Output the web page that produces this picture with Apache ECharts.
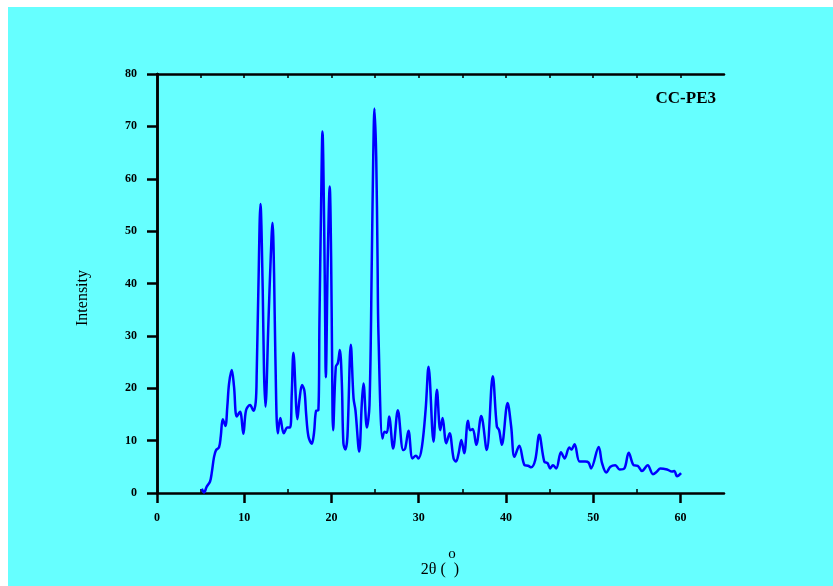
<!DOCTYPE html>
<html>
<head>
<meta charset="utf-8">
<style>
html,body{margin:0;padding:0;background:#fff;}
#c{width:833px;height:586px;}
</style>
<script src="https://cdn.jsdelivr.net/npm/echarts@6/dist/echarts.min.js"></script>
</head>
<body>
<div id="c"></div>
<script>
const twoTheta = [5.13,5.39,5.7,6.08,6.27,6.54,6.77,7.11,7.31,7.54,7.84,8.06,8.26,8.57,8.83,9.14,9.52,9.9,10.21,10.67,11.05,11.32,11.43,11.62,11.86,12.12,12.27,12.43,12.77,13.04,13.24,13.42,13.57,13.85,14.14,14.53,14.95,15.26,15.45,15.64,16.1,16.33,16.63,16.9,17.1,17.36,17.74,18.0,18.24,18.5,18.62,18.81,18.97,19.16,19.28,19.35,19.58,19.8,19.96,20.07,20.19,20.5,20.73,20.96,21.19,21.37,21.6,21.83,22.22,22.53,22.75,23.18,23.48,23.67,24.06,24.36,24.63,24.79,24.93,25.13,25.28,25.39,25.85,26.08,26.35,26.61,27.07,27.61,28.22,28.45,28.83,29.29,29.68,29.98,30.37,30.8,31.13,31.7,32.09,32.47,32.74,33.16,33.54,34.0,34.28,34.58,34.89,35.22,35.65,35.9,36.2,36.6,37.17,37.8,38.49,38.96,39.22,39.53,40.19,40.6,40.98,41.53,42.14,42.53,42.9,43.36,43.82,44.4,44.77,45.08,45.39,45.77,46.31,46.73,47.26,47.49,47.87,48.45,49.1,49.48,49.76,50.63,51.02,51.51,51.97,52.54,53.04,53.58,54.08,54.65,55.11,55.6,56.25,56.86,57.32,57.7,58.47,59.04,59.3,59.62,60.08];
const intensity = [0.8,0.1,1.2,2.2,3.8,6.9,8.2,8.7,10.8,14.1,12.8,16.5,20.9,23.5,20.3,14.6,15.5,11.3,15.8,16.8,15.7,17.4,22.9,38.8,55.2,38.8,22.9,16.5,32.4,45.1,51.6,42.0,26.0,11.4,14.3,11.4,12.5,12.5,19.0,26.8,14.1,17.8,20.6,19.5,15.0,10.8,9.4,11.5,15.7,15.8,32.4,54.7,69.0,51.5,32.5,22.1,45.1,58.5,45.1,26.0,12.0,24.1,24.8,27.3,21.0,9.5,8.3,10.8,28.3,18.1,15.8,7.9,17.1,20.9,12.5,16.8,45.1,64.2,73.4,64.2,45.1,30.2,10.4,11.7,11.5,14.6,8.5,15.8,8.2,8.5,11.9,6.6,7.1,6.6,8.8,16.0,24.1,9.8,19.7,12.0,14.3,9.5,11.4,6.6,6.0,7.6,10.1,7.6,13.8,12.0,12.2,9.2,14.7,8.2,22.3,12.7,12.0,9.2,17.2,12.7,6.9,9.0,5.3,5.2,4.9,6.3,11.1,6.0,5.7,4.7,5.3,4.7,7.8,6.6,8.7,8.3,9.3,6.0,6.0,5.8,4.7,8.8,5.7,3.9,5.0,5.3,4.5,4.7,7.7,5.3,5.2,4.2,5.3,3.6,4.1,4.7,4.5,4.1,4.2,3.2,3.8];
const xMajorTicks = [0,10,20,30,40,50,60];
const xMinorTicks = [5,15,25,35,45,55];
const xTopTicks = [5,10,15,20,25,30,35,40,45,50,55,60];
const yTicks = [0,10,20,30,40,50,60,70,80];
const sampleName = 'CC-PE3';

const serif = '"Liberation Serif", "Times New Roman", serif';
const chart = echarts.init(document.getElementById('c'));
const labelStyle = {fontFamily: serif, fontWeight: 'bold', fontSize: 12, color: '#000'};
const line = {show: true, lineStyle: {color: '#000', width: 2.5}};
chart.setOption({
  backgroundColor: '#fff',
  animation: false,
  graphic: [
    {type: 'rect', z: -10, silent: true, shape: {x: 8, y: 7, width: 825, height: 579}, style: {fill: '#66ffff'}},
    {type: 'text', x: 83, y: 298, rotation: Math.PI/2, style: {text: 'Intensity', font: '16px ' + serif, fill: '#000', textAlign: 'center', textVerticalAlign: 'middle'}},
    {type: 'text', x: 440, y: 570, style: {text: '2θ (  )', font: '16px ' + serif, fill: '#000', textAlign: 'center', textVerticalAlign: 'middle'}},
    {type: 'text', x: 452, y: 554, style: {text: 'o', font: '15px ' + serif, fill: '#000', textAlign: 'center', textVerticalAlign: 'middle'}},
    {type: 'text', x: 716, y: 99, style: {text: sampleName, font: 'bold 17px ' + serif, fill: '#000', textAlign: 'right', textVerticalAlign: 'middle'}}
  ],
  grid: {left: 157, top: 74, width: 567, height: 419, show: false},
  xAxis: [
    {type: 'value', min: 0, max: 65, position: 'bottom', axisLine: line,
     splitLine: {show: false},
     axisTick: {show: true, customValues: xMajorTicks, length: 10, lineStyle: {color: '#000', width: 2.5}},
     axisLabel: {customValues: xMajorTicks, margin: 19, ...labelStyle}},
    {type: 'value', min: 0, max: 65, position: 'bottom', axisLine: {show: false},
     splitLine: {show: false},
     axisTick: {show: true, inside: true, customValues: xMinorTicks, length: 4, lineStyle: {color: '#000', width: 1.5}},
     axisLabel: {show: false}},
    {type: 'value', min: 0, max: 65, position: 'top', axisLine: line,
     splitLine: {show: false},
     axisTick: {show: true, inside: true, customValues: xTopTicks, length: 4, lineStyle: {color: '#000', width: 1.5}},
     axisLabel: {show: false}}
  ],
  yAxis: [
    {type: 'value', min: 0, max: 80, interval: 10, position: 'left', axisLine: line,
     splitLine: {show: false},
     axisTick: {show: true, length: 10, lineStyle: {color: '#000', width: 2.5}},
     axisLabel: {margin: 20, ...labelStyle}},
    {type: 'value', min: 0, max: 80, interval: 10, position: 'right', axisLine: line,
     splitLine: {show: false}, axisTick: {show: false}, axisLabel: {show: false}}
  ],
  series: [{
    type: 'line', xAxisIndex: 0, yAxisIndex: 0,
    data: twoTheta.map((x, i) => [x, intensity[i]]),
    showSymbol: false, smooth: 0.35,
    lineStyle: {color: '#0000ff', width: 2.5}
  }]
});
</script>
</body>
</html>
